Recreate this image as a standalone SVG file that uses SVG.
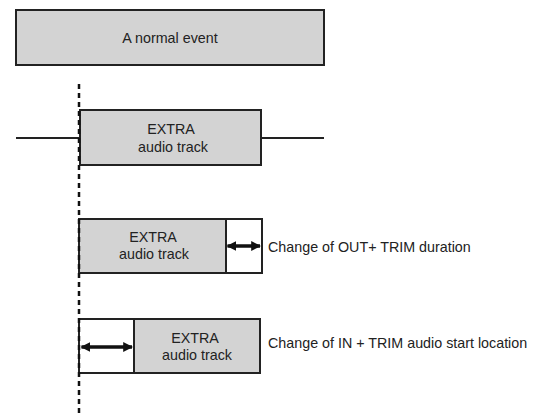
<svg xmlns="http://www.w3.org/2000/svg" width="536" height="415" viewBox="0 0 536 415">
<style>
.box{fill:#d3d3d3;stroke:#222;stroke-width:2}
.wbox{fill:#fff;stroke:#222;stroke-width:2}
.t{font-family:"Liberation Sans",Arial,sans-serif;font-size:14.3px;fill:#222}
.c{text-anchor:middle}
.ln{stroke:#222;stroke-width:2;fill:none}
.arr{stroke:#111;stroke-width:3.5;fill:none}
</style>
<defs>
<marker id="ah" viewBox="0 0 10 10" refX="9" refY="5" markerWidth="2.8" markerHeight="2.8" orient="auto-start-reverse" markerUnits="strokeWidth">
<path d="M0,0 L10,5 L0,10 z" fill="#111"/>
</marker>
</defs>
<rect width="536" height="415" fill="#fff"/>
<g id="normal-event">
<rect class="box" x="16" y="10" width="308" height="55"/>
<text class="t c" x="170" y="43">A normal event</text>
</g>
<g id="extra-1">
<rect class="box" x="80" y="110" width="181" height="55"/>
<text class="t c" x="171" y="134">EXTRA</text>
<text class="t c" x="173" y="152">audio track</text>
</g>
<g id="extra-out">
<rect class="box" x="79" y="219" width="147" height="54"/>
<rect class="wbox" x="226" y="219" width="36" height="54"/>
<text class="t c" x="153" y="242">EXTRA</text>
<text class="t c" x="154" y="259">audio track</text>
<text class="t" x="268" y="252">Change of OUT+ TRIM duration</text>
</g>
<g id="extra-in">
<rect class="wbox" x="79" y="319" width="55" height="54"/>
<rect class="box" x="134" y="319" width="126" height="54"/>
<text class="t c" x="195" y="343">EXTRA</text>
<text class="t c" x="197" y="360">audio track</text>
<text class="t" x="268" y="348">Change of IN + TRIM audio start location</text>
</g>
<g id="connectors">
<line class="ln" x1="16" y1="138" x2="80" y2="138"/>
<line class="ln" x1="261" y1="138" x2="324" y2="138"/>
<line class="arr" x1="227.5" y1="246" x2="260" y2="246" marker-start="url(#ah)" marker-end="url(#ah)"/>
<line class="arr" x1="81.5" y1="347" x2="132" y2="347" marker-start="url(#ah)" marker-end="url(#ah)"/>
</g>
<g id="cut-line">
<line x1="79" y1="84" x2="79" y2="415" stroke="#111" stroke-width="2.5" stroke-dasharray="5,4"/>
</g>
</svg>
